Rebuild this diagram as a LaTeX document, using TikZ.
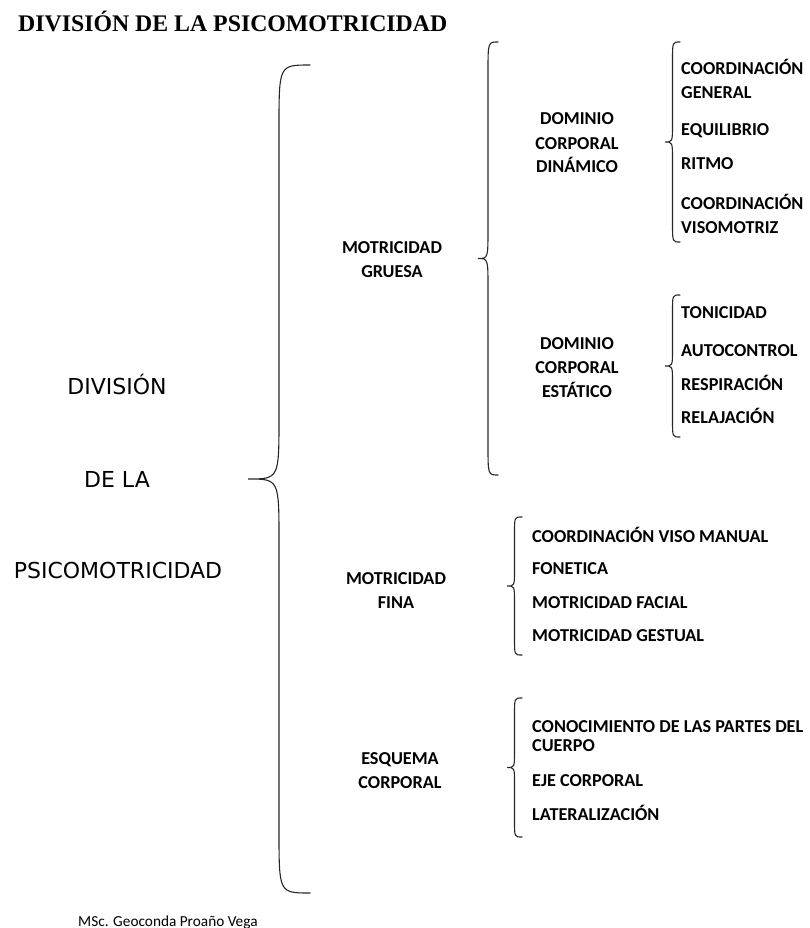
\documentclass[tikz,border=0pt]{standalone}
\usepackage{fontspec}
\setmainfont{Carlito}
\newfontfamily\titulofont{Liberation Serif}
\newfontfamily\grandefont{DejaVu Sans}

\tikzset{
    llave/.style={line width=1.1pt, black!85, line cap=round},
    titulo/.style={font=\titulofont\bfseries\fontsize{23.8}{28}\selectfont, anchor=base west, inner sep=0pt},
    grande/.style={font=\grandefont\fontsize{22}{26}\selectfont, anchor=base, inner sep=0pt},
    rama/.style={font=\bfseries\fontsize{18.2}{24}\selectfont, align=center, anchor=base, inner sep=0pt},
    hoja/.style={font=\bfseries\fontsize{18.2}{24}\selectfont, align=left, anchor=base west, inner sep=0pt}
}

\begin{document}
\begin{tikzpicture}[x=1pt, y=-1pt]
        \useasboundingbox (0,0) rectangle (810,928);

        \node [titulo] (titulo) at (18,32) {DIVISIÓN DE LA PSICOMOTRICIDAD};
%
        % llaves: extremo x, arriba, abajo, ancho, curva
        \foreach \xe/\yt/\yb/\w/\c in
        {
            310/65/893/62/62,
            498/42/475/20/30,
            680/42/242/15/18,
            680/295/437/15/16,
            522/517/655/15/16,
            522/698/837/15/16
        }
        {
            \pgfmathsetmacro\xv{\xe-\w/2}
            \pgfmathsetmacro\xt{\xe-\w}
            \pgfmathsetmacro\ym{(\yt+\yb)/2}
            \draw [llave] (\xe,\yt) .. controls (\xv,\yt) .. (\xv,\yt+\c) -- (\xv,\ym-\c)
                .. controls (\xv,\ym) .. (\xt,\ym) .. controls (\xv,\ym) .. (\xv,\ym+\c)
                -- (\xv,\yb-\c) .. controls (\xv,\yb) .. (\xe,\yb);
        }

        \node [grande] (division) at (117,394) {DIVISIÓN};
        \node [grande] (dela) at (117,487) {DE LA};
        \node [grande] (psico) at (118,578) {PSICOMOTRICIDAD};

        % la base es la ultima linea
        \node [rama] (gruesa) at (392,277) {MOTRICIDAD\\GRUESA};
        \node [rama] (fina) at (396,608) {MOTRICIDAD\\FINA};
        \node [rama] (esquema) at (400,788) {ESQUEMA\\CORPORAL};
        \node [rama] (dinamico) at (577,173) {DOMINIO\\CORPORAL\\DINÁMICO};
        \node [rama] (estatico) at (577,397) {DOMINIO\\CORPORAL\\ESTÁTICO};

        \foreach \n/\x/\y/\txt in
        {
            cg/681/99/{COORDINACIÓN\\GENERAL},
            eq/681/136/EQUILIBRIO,
            ri/681/170/RITMO,
            cv/681/233/{COORDINACIÓN\\VISOMOTRIZ},
            to/681/318/TONICIDAD,
            au/681/356/AUTOCONTROL,
            re/681/390/RESPIRACIÓN,
            rel/681/423/RELAJACIÓN,
            cvm/532/542/COORDINACIÓN VISO MANUAL,
            fo/532/574/FONETICA,
            mf/532/608/MOTRICIDAD FACIAL,
            mg/532/641/MOTRICIDAD GESTUAL,
            ec/532/786/EJE CORPORAL,
            la/532/820/LATERALIZACIÓN
        }
        {
            \node [hoja] (\n) at (\x,\y) {\txt};
        }
        \node [hoja, font=\bfseries\fontsize{18.2}{18.5}\selectfont] (cp) at (532,751) {CONOCIMIENTO DE LAS PARTES DEL\\CUERPO};

        \node [anchor=base west, inner sep=0pt, font=\fontsize{15.3}{18}\selectfont] (autora) at (78,926) {MSc. Geoconda Proaño Vega};
    \end{tikzpicture}
\end{document}
